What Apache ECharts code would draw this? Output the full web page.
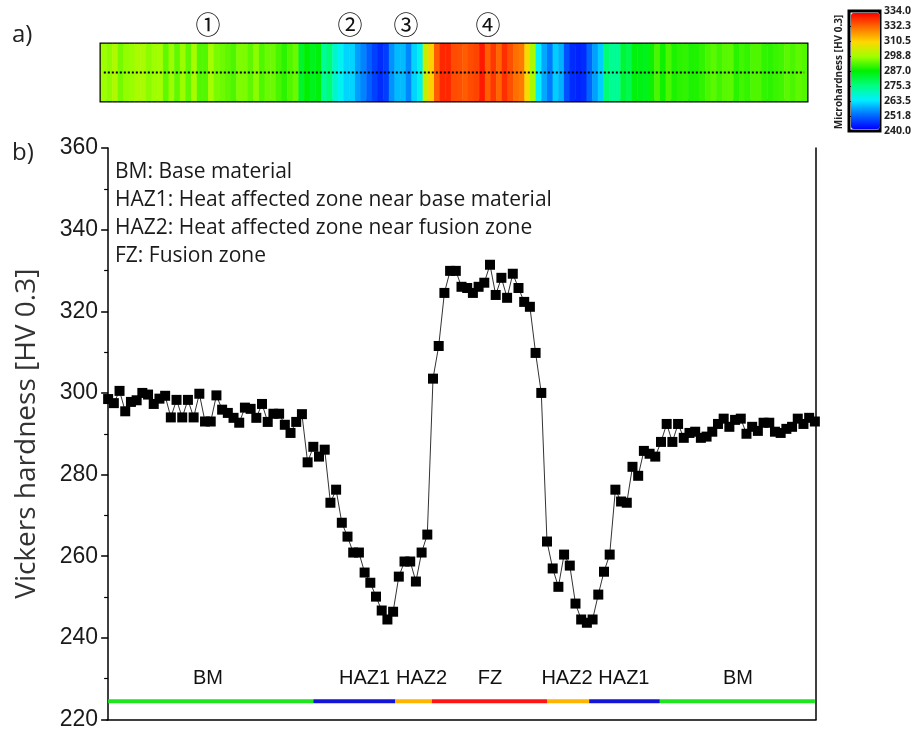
<!DOCTYPE html>
<html>
<head>
<meta charset="utf-8">
<script src="https://cdn.jsdelivr.net/npm/echarts@6/dist/echarts.min.js"></script>
<style>
html, body { margin: 0; padding: 0; background: #fff; }
#main { width: 914px; height: 731px; }
</style>
</head>
<body>
<div id="main"></div>
<script>
// hardness profile along the dotted line, one value per indent
var hardness = [
	298.5, 297.5, 300.5, 295.5, 297.8, 298.2, 300.0, 299.6, 297.3, 298.6,
	299.3, 294.0, 298.3, 294.0, 298.3, 294.0, 299.8, 293.0, 293.0, 299.4,
	295.9, 295.1, 293.9, 292.7, 296.4, 296.1, 293.9, 297.3, 292.9, 294.9,
	294.9, 292.2, 290.2, 292.9, 294.8, 283.0, 286.8, 284.4, 286.1, 273.1,
	276.3, 268.2, 264.8, 260.9, 260.9, 256.0, 253.5, 250.1, 246.7, 244.5,
	246.4, 255.0, 258.7, 258.7, 253.8, 260.9, 265.3, 303.5, 311.5, 324.5,
	329.9, 329.9, 326.0, 325.7, 324.5, 326.0, 327.0, 331.4, 324.0, 328.2,
	323.3, 329.2, 325.7, 322.3, 321.1, 309.8, 300.0, 263.6, 257.0, 252.5,
	260.4, 257.7, 248.4, 244.5, 243.7, 244.5, 250.6, 256.2, 260.4, 276.3,
	273.4, 273.1, 281.9, 279.7, 285.8, 285.1, 284.4, 288.0, 292.4, 288.0,
	292.4, 289.0, 290.2, 290.5, 289.0, 289.3, 290.5, 292.4, 293.7, 291.7,
	293.4, 293.7, 290.0, 291.7, 290.7, 292.7, 292.7, 290.5, 290.2, 291.2,
	291.7, 293.7, 292.4, 293.9, 293.0
];

// zones along the weld (in indent index units)
var zoneNames = ['BM', 'HAZ1', 'HAZ2', 'FZ', 'HAZ2', 'HAZ1', 'BM'];
var zoneStart = [0, 36, 50.4, 56.8, 77, 84.4, 96.8];
var zoneEnd = [36, 50.4, 56.8, 77, 84.4, 96.8, 124];
var zoneLabelAt = [17.5, 45, 55, 67, 80.5, 90.5, 110.5];
var zoneColors = ['#1ee61e', '#1414d8', '#ffb400', '#ff1414', '#ffb400', '#1414d8', '#1ee61e'];
var zoneLevel = 224.5;
var zoneTextLevel = 230;

// colour scale of the map
var scaleMin = 240;
var scaleMax = 334;
var scaleLabels = ['240.0', '251.8', '263.5', '275.3', '287.0', '298.8', '310.5', '332.3', '334.0'];
var scaleColors = ['#0000ff', '#0070ff', '#00f0ff', '#00ff80', '#00f000', '#a0ff00', '#ffd800', '#ff7000', '#ff0000'];

var legendLines = [
	'BM: Base material',
	'HAZ1: Heat affected zone near base material',
	'HAZ2: Heat affected zone near fusion zone',
	'FZ: Fusion zone'
];
var spotNames = ['①', '②', '③', '④'];
var spotAt = [208, 350, 406, 488];

var chart = echarts.init(document.getElementById('main'), null, { renderer: 'canvas' });

var mapCells = hardness.map(function (v, i) { return [i, 0, v]; });
var indexCats = hardness.map(function (v, i) { return String(i); });
var profile = hardness.map(function (v, i) { return [i, v]; });

var zoneSeries = zoneNames.map(function (name, i) {
	return {
		type: 'line',
		xAxisIndex: 1,
		yAxisIndex: 1,
		data: [[zoneStart[i], zoneLevel], [zoneEnd[i], zoneLevel]],
		symbol: 'none',
		silent: true,
		lineStyle: { color: zoneColors[i], width: 4 },
		z: 3
	};
});

var zoneText = {
	type: 'scatter',
	xAxisIndex: 1,
	yAxisIndex: 1,
	symbolSize: 0,
	itemStyle: { opacity: 1 },
	data: zoneNames.map(function (name, i) {
		return { name: name, value: [zoneLabelAt[i], zoneTextLevel] };
	}),
	label: {
		show: true,
		position: 'inside',
		formatter: '{b}',
		fontFamily: 'Liberation Sans',
		fontSize: 20,
		color: '#111'
	}
};

var graphics = [
	{ type: 'text', x: 12, y: 35, style: { text: 'a)', font: '24px "Open Sans"', fill: '#222', verticalAlign: 'middle' } },
	{ type: 'text', x: 12, y: 153, style: { text: 'b)', font: '24px "Open Sans"', fill: '#222', verticalAlign: 'middle' } },
	{
		type: 'text', x: 839, y: 72, rotation: Math.PI / 2,
		style: { text: 'Microhardness [HV 0.3]', font: 'bold 10px "Open Sans"', fill: '#222', align: 'center', verticalAlign: 'middle' }
	}
];
spotNames.forEach(function (s, i) {
	graphics.push({ type: 'text', x: spotAt[i], y: 24, style: { text: s, font: '25px "Noto Sans CJK JP"', fill: '#111', align: 'center', verticalAlign: 'middle' } });
});
legendLines.forEach(function (s, i) {
	graphics.push({ type: 'text', x: 115, y: 172 + i * 28, style: { text: s, font: '21px "Open Sans"', fill: '#1a1a1a', verticalAlign: 'middle' } });
});

var option = {
	backgroundColor: '#fff',
	animation: false,
	grid: [
		{ left: 101, top: 44, width: 706, height: 57, show: true, borderColor: '#000', borderWidth: 3, backgroundColor: 'transparent' },
		{ left: 107, top: 148, width: 709, height: 572 },
		{ left: 849, top: 11, width: 33, height: 120, show: true, borderColor: '#000', borderWidth: 3 }
	],
	xAxis: [
		{ gridIndex: 0, type: 'category', data: indexCats, show: false },
		{
			gridIndex: 1, type: 'value', min: -0.2, max: 124.2,
			axisLine: { show: true, lineStyle: { color: '#000', width: 1.5 } },
			axisTick: { show: false }, axisLabel: { show: false }, splitLine: { show: false }
		},
		{ gridIndex: 2, type: 'value', show: false }
	],
	yAxis: [
		{ gridIndex: 0, type: 'category', data: ['0'], show: false },
		{
			gridIndex: 1, type: 'value', min: 220, max: 360, interval: 20,
			name: 'Vickers hardness [HV 0.3]',
			nameLocation: 'middle',
			nameGap: 66,
			nameTextStyle: { fontFamily: 'Open Sans', fontSize: 28, color: '#333' },
			axisLine: { show: true, lineStyle: { color: '#000', width: 1.5 } },
			axisTick: { show: true, length: 7, lineStyle: { color: '#000', width: 1.5 } },
			minorTick: { show: true, splitNumber: 2, length: 4, lineStyle: { color: '#000', width: 1.2 } },
			axisLabel: { fontFamily: 'Liberation Sans', fontSize: 23, color: '#1a1a1a', margin: 9 },
			splitLine: { show: false }
		},
		{
			gridIndex: 1, type: 'value', min: 220, max: 360, position: 'right',
			axisLine: { show: true, lineStyle: { color: '#000', width: 1.5 } },
			axisTick: { show: false }, axisLabel: { show: false }, splitLine: { show: false }
		},
		{
			gridIndex: 2, type: 'category', data: scaleLabels, boundaryGap: false, position: 'right',
			axisLine: { show: false },
			axisTick: { show: true, length: 3, inside: false, lineStyle: { color: '#000' } },
			axisLabel: { fontFamily: 'Open Sans', fontWeight: 'bold', fontSize: 10.5, color: '#222', margin: 4 }
		}
	],
	visualMap: {
		type: 'continuous',
		seriesIndex: 0,
		min: scaleMin,
		max: scaleMax,
		inRange: { color: scaleColors },
		orient: 'vertical',
		left: 851,
		top: 13,
		itemWidth: 29,
		itemHeight: 116,
		padding: 0,
		calculable: false,
		hoverLink: false,
		showLabel: false
	},
	graphic: graphics,
	series: [
		{
			type: 'heatmap',
			xAxisIndex: 0,
			yAxisIndex: 0,
			data: mapCells,
			silent: true,
			itemStyle: { borderWidth: 0 }
		},
		{
			type: 'line',
			xAxisIndex: 0,
			yAxisIndex: 0,
			data: [[0, 0], [hardness.length - 1, 0]],
			symbol: 'none',
			silent: true,
			lineStyle: { color: '#000', width: 2, type: [2, 2] },
			z: 5
		},
		{
			type: 'line',
			xAxisIndex: 1,
			yAxisIndex: 1,
			data: profile,
			symbol: 'rect',
			symbolSize: 10,
			itemStyle: { color: '#000' },
			lineStyle: { color: '#333', width: 1 },
			z: 4
		}
	].concat(zoneSeries, [zoneText])
};

chart.setOption(option);
</script>
</body>
</html>
